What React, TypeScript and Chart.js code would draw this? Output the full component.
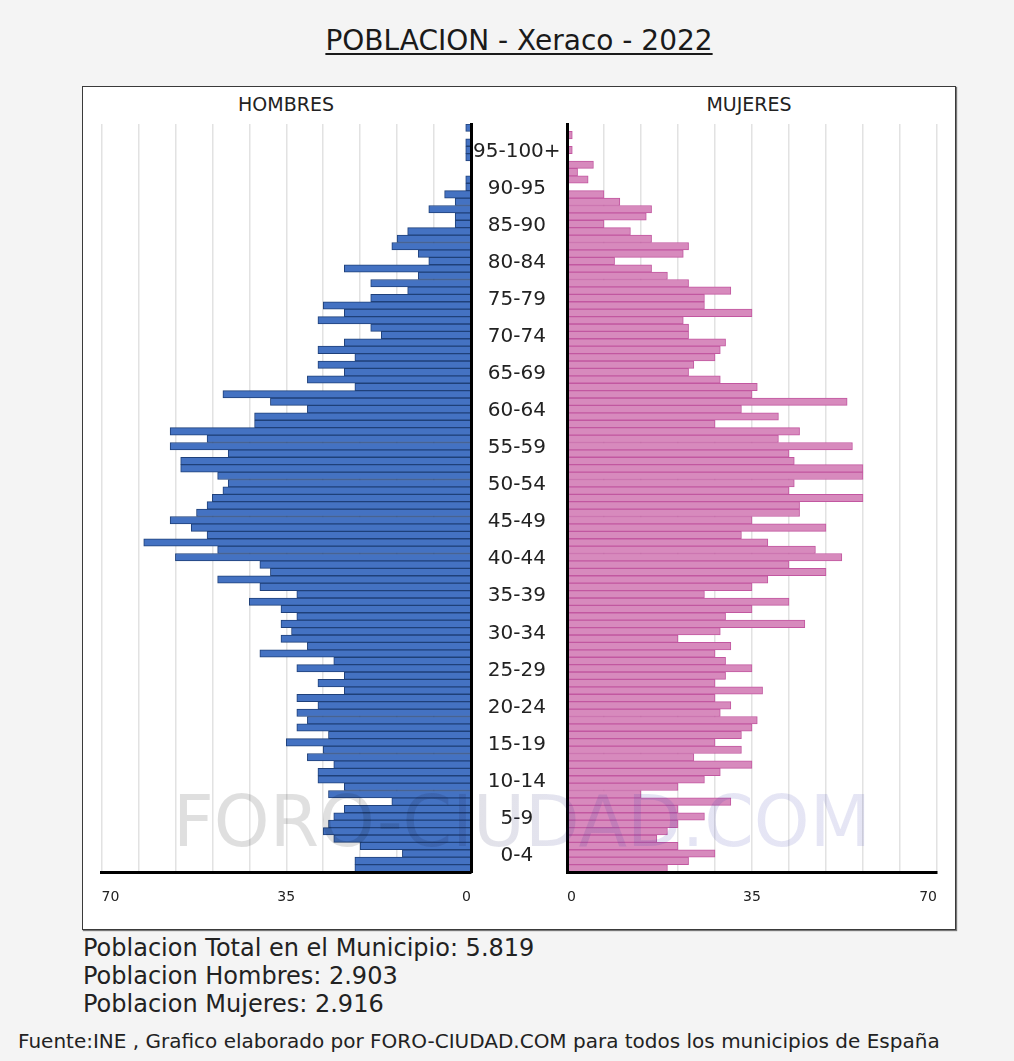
import React, { useEffect, useRef } from 'react';
import { Chart, registerables } from 'chart.js';

Chart.register(...registerables);

// ---- data (index = age, 0..100) ----
const ages: string[] = Array.from({ length: 101 }, (_, i) => String(i));

const groupLabels = [
  '0-4', '5-9', '10-14', '15-19', '20-24', '25-29', '30-34', '35-39', '40-44', '45-49',
  '50-54', '55-59', '60-64', '65-69', '70-74', '75-79', '80-84', '85-90', '90-95', '95-100+',
];

const hombres = [
  22, 22, 13, 21, 26, 28, 27, 26, 24, 15,
  27, 24, 29, 29, 26, 31, 28, 35, 27, 33,
  31, 33, 29, 33, 24, 29, 24, 33, 26, 40,
  31, 36, 34, 36, 33, 36, 42, 33, 40, 48,
  38, 40, 56, 48, 62, 50, 53, 57, 52, 50,
  49, 47, 46, 48, 55, 55, 46, 57, 50, 57,
  41, 41, 31, 38, 47, 22, 31, 24, 29, 22,
  29, 24, 17, 19, 29, 24, 28, 19, 12, 19,
  10, 24, 8, 10, 15, 14, 12, 3, 3, 8,
  3, 5, 1, 1, 0, 0, 1, 1, 1, 0,
  1,
];

const mujeres = [
  19, 23, 28, 21, 17, 19, 21, 26, 21, 31,
  14, 21, 26, 29, 35, 24, 33, 28, 33, 35,
  36, 29, 31, 28, 37, 28, 30, 35, 30, 28,
  31, 21, 29, 45, 30, 35, 42, 26, 35, 38,
  49, 42, 52, 47, 38, 33, 49, 35, 44, 44,
  56, 42, 43, 56, 56, 43, 42, 54, 40, 44,
  28, 40, 33, 53, 35, 36, 29, 23, 24, 28,
  29, 30, 23, 23, 22, 35, 26, 26, 31, 23,
  19, 16, 9, 22, 23, 16, 12, 7, 15, 16,
  10, 7, 0, 4, 2, 5, 0, 1, 0, 1,
  0,
];

const labelledXTicks = [0, 35, 70];
const AXIS_MAX = 70;
const GRID_STEP = 7;

const FONT = '"DejaVu Sans", Verdana, sans-serif';
const TEXT = '#222222';

function groupLabelFor(index: number): string {
  if (index >= 2 && (index - 2) % 5 === 0) {
    return groupLabels[(index - 2) / 5] ?? '';
  }
  return '';
}

// Men's side runs from -70 to 0 (drawn leftwards), labels show absolute values.
function makeX(isLeft: boolean) {
  return {
    type: 'linear' as const,
    min: isLeft ? -AXIS_MAX : 0,
    max: isLeft ? 0 : AXIS_MAX,
    position: 'bottom' as const,
    afterFit: (s: any) => {
      s.height = 40;
      s.paddingLeft = 0;
      s.paddingRight = 0;
    },
    grid: { color: '#e2e2e2', lineWidth: 1.5, drawTicks: false },
    border: { display: true, color: '#000000', width: 3, z: 1 },
    ticks: {
      stepSize: GRID_STEP,
      autoSkip: false,
      maxRotation: 0,
      align: 'inner' as const,
      padding: 17,
      color: TEXT,
      font: { family: FONT, size: 14 },
      callback: (v: any) => {
        const n = Math.abs(Math.round(Number(v)));
        return labelledXTicks.includes(n) ? String(n) : '';
      },
    },
  };
}

function PyramidSide({ side }: { side: 'left' | 'right' }) {
  const ref = useRef<HTMLCanvasElement | null>(null);
  useEffect(() => {
    if (!ref.current) return;
    const isLeft = side === 'left';
    const chart = new Chart(ref.current, {
      type: 'bar',
      data: {
        labels: ages,
        datasets: [
          {
            data: isLeft ? hombres.map((v) => -v) : mujeres,
            backgroundColor: isLeft ? '#4472c2' : '#d78abd',
            borderColor: isLeft ? '#1f4079' : '#c257a0',
            borderWidth: 1,
            barPercentage: 1,
            categoryPercentage: 1,
          },
        ],
      },
      options: {
        indexAxis: 'y',
        responsive: false,
        animation: false,
        events: [],
        layout: {
          padding: isLeft
            ? { left: 5.5, top: 4, right: 0, bottom: 0 }
            : { left: 4, top: 4, right: 5, bottom: 0 },
        },
        plugins: {
          legend: { display: false },
          tooltip: { enabled: false },
          title: { display: false },
        },
        scales: {
          x: makeX(isLeft) as any,
          y: isLeft
            ? ({
                type: 'category',
                position: 'right',
                reverse: true,
                afterFit: (s: any) => {
                  s.width = 96;
                  s.paddingTop = 0;
                  s.paddingBottom = 0;
                },
                grid: { display: false, drawTicks: false },
                border: { display: true, color: '#000000', width: 3, z: 1 },
                ticks: {
                  autoSkip: false,
                  crossAlign: 'center',
                  padding: 2,
                  labelOffset: 2,
                  color: TEXT,
                  font: { family: FONT, size: 20 },
                  callback: (_v: any, i: number) => groupLabelFor(i),
                },
              } as any)
            : ({
                type: 'category',
                position: 'left',
                reverse: true,
                afterFit: (s: any) => {
                  s.width = 0;
                  s.paddingTop = 0;
                  s.paddingBottom = 0;
                },
                grid: { display: false, drawTicks: false },
                border: { display: true, color: '#000000', width: 3, z: 1 },
                ticks: { display: false },
              } as any),
        },
      },
    });
    return () => chart.destroy();
  }, [side]);

  const isLeft = side === 'left';
  const width = isLeft ? 471 : 379;
  return (
    <canvas
      ref={ref}
      width={width}
      height={792}
      style={{
        position: 'absolute',
        left: isLeft ? 96 : 563,
        top: 120,
        width,
        height: 792,
      }}
    />
  );
}

export default function App() {
  const textBase: React.CSSProperties = {
    position: 'absolute',
    fontFamily: FONT,
    color: TEXT,
    whiteSpace: 'nowrap',
  };
  return (
    <div
      style={{
        position: 'absolute',
        left: 0,
        top: 0,
        width: 1014,
        height: 1061,
        overflow: 'hidden',
        background: '#f4f4f4',
      }}
    >
      <div
        style={{
          ...textBase,
          left: 82,
          width: 874,
          top: 24,
          textAlign: 'center',
          fontSize: 28,
          color: '#1a1a1a',
          textDecoration: 'underline',
          textDecorationThickness: '2px',
          textUnderlineOffset: '3px',
        }}
      >
        POBLACION - Xeraco - 2022
      </div>

      <div
        style={{
          position: 'absolute',
          left: 82,
          top: 86,
          width: 872,
          height: 842,
          background: '#ffffff',
          border: '1px solid #3a3a3a',
          boxShadow: '1px 1px 1px #777',
        }}
      />

      <div style={{ ...textBase, left: 101, width: 370, top: 93, textAlign: 'center', fontSize: 19 }}>
        HOMBRES
      </div>
      <div style={{ ...textBase, left: 564, width: 370, top: 93, textAlign: 'center', fontSize: 19 }}>
        MUJERES
      </div>

      <PyramidSide side="left" />
      <PyramidSide side="right" />

      <div
        style={{
          ...textBase,
          left: 0,
          width: 1044,
          top: 780,
          textAlign: 'center',
          fontSize: 71,
          pointerEvents: 'none',
          color: 'transparent',
          background:
            'linear-gradient(90deg, rgba(0,0,0,0.13) 0%, rgba(0,0,0,0.12) 35%, rgba(50,50,170,0.13) 60%, rgba(50,50,170,0.12) 100%)',
          WebkitBackgroundClip: 'text',
          backgroundClip: 'text',
        }}
      >
        FORO-CIUDAD.COM
      </div>

      <div style={{ ...textBase, left: 83, top: 934, fontSize: 24, lineHeight: '28px' }}>
        Poblacion Total en el Municipio: 5.819
        <br />
        Poblacion Hombres: 2.903
        <br />
        Poblacion Mujeres: 2.916
      </div>

      <div style={{ ...textBase, left: 18, top: 1029, fontSize: 20 }}>
        Fuente:INE , Grafico elaborado por FORO-CIUDAD.COM para todos los municipios de España
      </div>
    </div>
  );
}
